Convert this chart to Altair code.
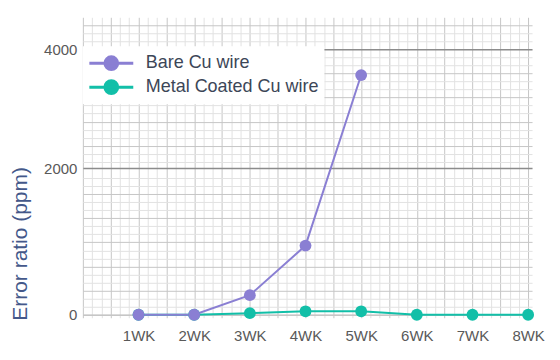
import json
import altair as alt
import pandas as pd

weeks = ["1WK", "2WK", "3WK", "4WK", "5WK", "6WK", "7WK", "8WK"]
bare = [0, 0, 190, 830, 3550, None, None, None]
coated = [0, 0, 10, 25, 25, 0, 0, 0]
series = ["Bare Cu wire", "Metal Coated Cu wire"]
colors = ["#8a7fd3", "#12bfa8"]
y_labels = [0, 2000, 4000]

FONT = "Liberation Sans"

rows = []
for name, vals in [(series[1], coated), (series[0], bare)]:
    for i, v in enumerate(vals):
        if v is not None:
            rows.append({"week": i + 1, "label": weeks[i], "value": v, "series": name})
df = pd.DataFrame(rows)

x_scale = alt.Scale(domain=[0, 8.07], nice=False, zero=False)
y_scale = alt.Scale(type="pow", exponent=0.8556, domain=[-21.2, 4569], nice=False, zero=False)

label_expr = (
    "abs(datum.value - round(datum.value)) < 0.001 && datum.value >= 1 ? "
    + json.dumps(weeks)
    + "[round(datum.value) - 1] : ''"
)

x_axis = alt.Axis(
    values=[k / 6 for k in range(49)],
    labelExpr=label_expr,
    grid=True,
    gridColor={"condition": {"test": "abs(datum.value*2 - round(datum.value*2)) < 0.001", "value": "#c6c6c6"}, "value": "#e2e2e2"},
    gridWidth=1,
    domain=False,
    ticks=False,
    tickSize=0,
    labelPadding=11,
    labelFontSize=15,
    labelColor="#595959",
    labelFont=FONT,
    labelFlush=False,
    labelOverlap=False,
    title=None,
)

y_axis = alt.Axis(
    values=y_labels,
    format="d",
    orient="left",
    grid=True,
    gridColor={"condition": {"test": "datum.value == 0", "value": "#c6c6c6"}, "value": "#8c8c8c"},
    gridWidth=1.5,
    domain=False,
    ticks=False,
    tickSize=0,
    labelPadding=6,
    labelFontSize=15,
    labelColor="#595959",
    labelFont=FONT,
    title="Error ratio (ppm)",
    titleFont=FONT,
    titleFontSize=21,
    titleFontWeight="normal",
    titleColor="#44588a",
    titleAngle=270,
    titleX=-56,
    titleY=226.5,
    titleAlign="center",
    titleBaseline="alphabetic",
)

legend_symbol = "M-1,0L1,0M0.29,0A0.29,0.29,0,1,1,-0.29,0A0.29,0.29,0,1,1,0.29,0Z"

color = alt.Color(
    "series:N",
    scale=alt.Scale(domain=series, range=colors),
    legend=alt.Legend(
        title=None,
        orient="none",
        legendX=0,
        legendY=29,
        fillColor="white",
        padding=5,
        symbolType=legend_symbol,
        symbolSize=1936,
        symbolStrokeWidth=3,
        clipHeight=24,
        labelFontSize=18,
        labelLimit=400,
        labelColor="#3c4657",
        labelFont=FONT,
        labelOffset=11,
        rowPadding=0,
    ),
)

base = alt.Chart(df).encode(
    x=alt.X("week:Q", scale=x_scale, axis=x_axis),
    y=alt.Y("value:Q", scale=y_scale, axis=y_axis),
    color=color,
)

lines = base.mark_line(strokeWidth=2)
points = base.mark_point(filled=True, size=140, opacity=1)
data_layer = alt.layer(lines, points)

grid_layer = alt.Chart(pd.DataFrame({"g": [0]})).mark_point(opacity=0).encode(
    y=alt.Y(
        "g:Q",
        scale=alt.Scale(domain=[-0.372, 36.97], nice=False, zero=False),
        axis=alt.Axis(
            values=list(range(37)),
            orient="right",
            grid=True,
            gridColor={"condition": {"test": "datum.value % 3 == 0", "value": "#c6c6c6"}, "value": "#e2e2e2"},
            gridOpacity={"condition": {"test": "datum.value == 18 || datum.value == 33", "value": 0}, "value": 1},
            gridWidth=1,
            labels=False,
            ticks=False,
            domain=False,
            title=None,
        ),
    )
)

chart = (
    alt.layer(grid_layer, data_layer)
    .resolve_scale(y="independent")
    .properties(
        width=450,
        height=301,
        autosize=alt.AutoSizeParams(type="none"),
        padding={"left": 75, "top": 9, "right": 20, "bottom": 30},
        background="white",
    )
    .configure_view(stroke=None)
)

chart.save("out.html", embed_options={"renderer": "svg", "actions": False})
